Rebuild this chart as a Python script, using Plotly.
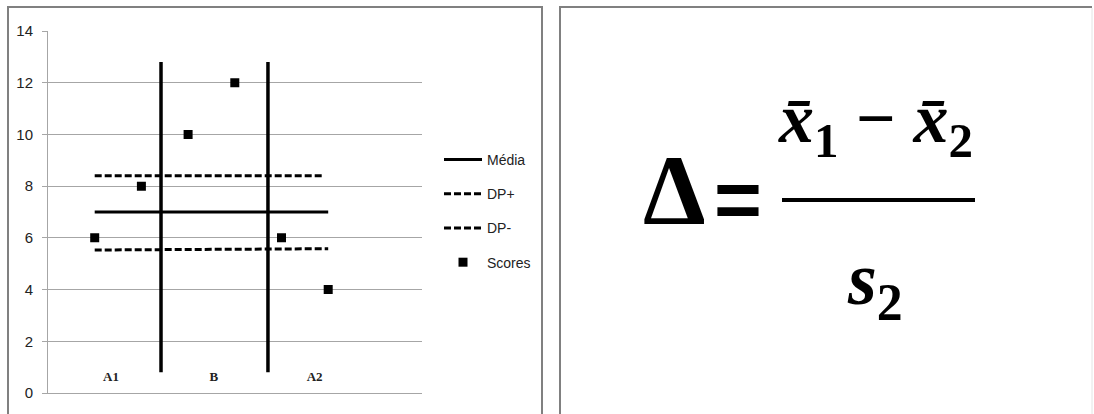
import plotly.graph_objects as go

# scores per position along the sequence A1 | B | A2
score_x = [1, 2, 3, 4, 5, 6]
score_y = [6, 8, 10, 12, 6, 4]

# reference lines (mean and +/- one standard deviation)
media_x = [1, 6]
media_y = [7, 7]
dp_plus_x = [1, 5.88]
dp_plus_y = [8.4, 8.4]
dp_minus_x = [1, 6]
dp_minus_y = [5.53, 5.58]

# phase change lines
phase_x = [2.42, 4.71]
phase_y = [0.8, 12.8]

phase_labels = ["A1", "B", "A2"]
phase_label_x = [1.35, 3.55, 5.71]
phase_label_y = [0.58, 0.58, 0.58]

y_ticks = [0, 2, 4, 6, 8, 10, 12, 14]

W, H = 1094, 414
GRID = "#a6a6a6"
FRAME = "#808080"
LABEL_FONT = "Liberation Sans Narrow, Arial Narrow, sans-serif"
MATH_FONT = "Liberation Serif, Times New Roman, serif"


def px(x):
    return x / W


def py(y):
    return 1 - y / H


fig = go.Figure()

fig.add_trace(go.Scatter(x=media_x, y=media_y, mode="lines", name="Média",
                         legendgroup="media",
                         line=dict(color="black", width=3)))
fig.add_trace(go.Scatter(x=dp_plus_x, y=dp_plus_y, mode="lines", name="DP+",
                         legendgroup="dp_plus",
                         line=dict(color="black", width=3, dash="7px,3px")))
fig.add_trace(go.Scatter(x=dp_minus_x, y=dp_minus_y, mode="lines", name="DP-",
                         legendgroup="dp_minus",
                         line=dict(color="black", width=3, dash="7px,3px")))
for xv in phase_x:
    fig.add_trace(go.Scatter(x=[xv, xv], y=phase_y, mode="lines",
                             showlegend=False, hoverinfo="skip",
                             line=dict(color="black", width=3.5)))
fig.add_trace(go.Scatter(x=score_x, y=score_y, mode="markers", name="Scores",
                         legendgroup="scores",
                         marker=dict(symbol="square", size=9, color="black")))
fig.add_trace(go.Scatter(x=phase_label_x, y=phase_label_y, mode="text",
                         text=["<b>%s</b>" % t for t in phase_labels],
                         showlegend=False, hoverinfo="skip",
                         textfont=dict(family=MATH_FONT, size=13, color="#222")))

# panel frames (bottom edges run off the page)
fig.add_shape(type="rect", xref="paper", yref="paper",
              x0=px(8), x1=px(542), y0=-0.05, y1=py(7),
              line=dict(color=FRAME, width=2))
fig.add_shape(type="path", xref="paper", yref="paper",
              path="M %f,-0.05 L %f,%f L %f,%f" % (px(560), px(560), py(7),
                                                   px(1092), py(7)),
              line=dict(color=FRAME, width=2))
fig.add_shape(type="line", xref="paper", yref="paper",
              x0=px(1092), x1=px(1092), y0=-0.05, y1=py(8),
              line=dict(color="#e4e4e4", width=1))

# formula: delta = (x1 - x2) / s2
formula = [
    ("<b>Δ</b>", 674, 190, MATH_FONT, 100),
    ("<b>=</b>", 738, 199, LABEL_FONT, 82),
    ("<b><i>x\u0304</i></b><sub><b>1</b></sub> <b>−</b> "
     "<b><i>x\u0304</i></b><sub><b>2</b></sub>", 875, 124, MATH_FONT, 70),
    ("<b><i>s</i></b><sub><b>2</b></sub>", 875, 284, MATH_FONT, 74),
]
for text, x, y, family, size in formula:
    fig.add_annotation(xref="paper", yref="paper", x=px(x), y=py(y),
                       xanchor="center", yanchor="middle",
                       text=text, showarrow=False,
                       font=dict(family=family, size=size, color="black"))
fig.add_shape(type="line", xref="paper", yref="paper",
              x0=px(782), x1=px(975), y0=py(200), y1=py(200),
              line=dict(color="black", width=4))

fig.update_layout(
    width=W, height=H,
    margin=dict(l=0, r=0, t=0, b=0),
    paper_bgcolor="white", plot_bgcolor="white",
    showlegend=True,
    legend=dict(x=px(439), y=py(144), xanchor="left", yanchor="top",
                bgcolor="rgba(0,0,0,0)", tracegroupgap=13, itemwidth=38,
                font=dict(family=LABEL_FONT, size=14, color="#222")),
    xaxis=dict(domain=[px(48), px(421.6)], range=[0, 8], automargin=False,
               showticklabels=False, showgrid=False, zeroline=False,
               showline=True, linecolor=GRID, linewidth=1),
    yaxis=dict(domain=[py(393), py(31)], range=[0, 14], automargin=False,
               tickvals=y_ticks, showgrid=True, gridcolor=GRID, gridwidth=1,
               zeroline=False, showline=True, linecolor=GRID, linewidth=1,
               ticks="outside", ticklen=5, tickcolor=GRID,
               ticklabelstandoff=6,
               tickfont=dict(family=LABEL_FONT, size=15, color="#222")),
)

fig.write_html("out.html", config={"displayModeBar": False},
               post_script="document.body.style.margin = '0px';")
